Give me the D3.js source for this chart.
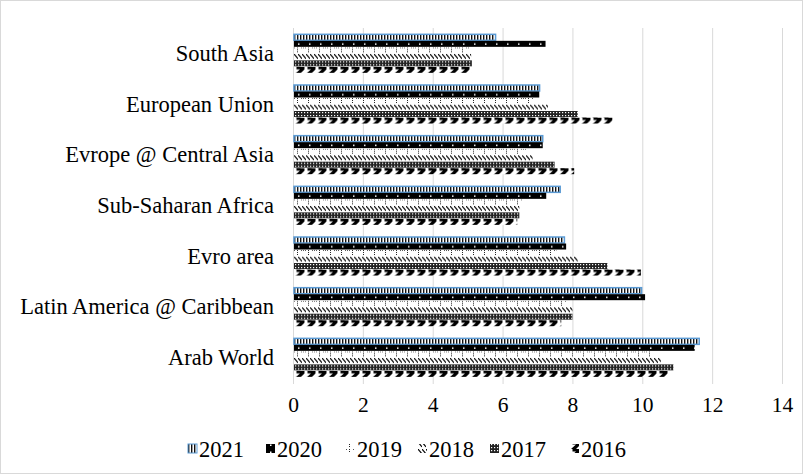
<!DOCTYPE html>
<html>
<head>
<meta charset="utf-8">
<script src="https://cdn.jsdelivr.net/npm/d3@7"></script>
<style>
  html, body { margin: 0; padding: 0; background: #fff; }
  svg { display: block; }
  text { font-family: "Liberation Serif", "Times New Roman", Tinos, "DejaVu Serif", serif; fill: #000; }
</style>
</head>
<body>
<svg id="chart" width="803" height="474"></svg>
<script>
// Regions, top to bottom
const categories = ["South Asia", "European Union", "Evrope @ Central Asia", "Sub-Saharan Africa",
                    "Evro area", "Latin America @ Caribbean", "Arab World"];
// Years, drawn top to bottom inside each group
const years = ["2021", "2020", "2019", "2018", "2017", "2016"];
const v2021 = [5.8, 7.06, 7.15, 7.65, 7.77, 9.98, 11.63];
const v2020 = [7.23, 7.05, 7.15, 7.25, 7.82, 10.08, 11.5];
const v2019 = [5.05, 6.9, 6.68, 6.57, 7.54, 7.82, 10.3];
const v2018 = [5.1, 7.3, 6.86, 6.48, 8.15, 8.0, 10.53];
const v2017 = [5.12, 8.15, 7.49, 6.48, 9.0, 8.0, 10.89];
const v2016 = [5.1, 9.15, 8.05, 6.42, 9.96, 7.68, 10.77];
const xTicks = [0, 2, 4, 6, 8, 10, 12, 14];

const seriesValues = { "2021": v2021, "2020": v2020, "2019": v2019, "2018": v2018, "2017": v2017, "2016": v2016 };

const FONT = "'Liberation Serif', 'Times New Roman', Tinos, 'DejaVu Serif', serif";
const svg = d3.select("#chart");
const W = 803, H = 474;

// outer frame
svg.append("rect").attr("x", 0.5).attr("y", 0.5).attr("width", W - 1).attr("height", H - 1)
  .attr("fill", "#fff").attr("stroke", "#d9d9d9");

// ---- fill patterns ----
const defs = svg.append("defs");
function pat(id, w, h, draw) {
  const p = defs.append("pattern").attr("id", id).attr("patternUnits", "userSpaceOnUse")
    .attr("width", w).attr("height", h);
  draw(p);
}
// 2021: narrow vertical stripes
pat("p2021", 3, 8, p => {
  p.append("rect").attr("width", 3).attr("height", 8).attr("fill", "#fff");
  p.append("rect").attr("x", 0).attr("width", 1.4).attr("height", 8).attr("fill", "#111");
});
// 2020: solid black with small white dots
pat("p2020", 11, 7, p => {
  p.append("rect").attr("width", 11).attr("height", 7).attr("fill", "#000");
  p.append("rect").attr("x", 4).attr("y", 2.5).attr("width", 1.5).attr("height", 1.5).attr("fill", "#fff");
});
// 2019: dotted verticals on white
pat("p2019", 11, 7, p => {
  p.append("rect").attr("width", 11).attr("height", 7).attr("fill", "#fff");
  [0, 2, 4].forEach(y => p.append("rect").attr("x", 3).attr("y", y).attr("width", 1).attr("height", 1).attr("fill", "#222"));
  [0, 7, 9].forEach(x => p.append("rect").attr("x", x).attr("y", 0).attr("width", 1).attr("height", 1).attr("fill", "#555"));
});
// 2018: downward diagonal dashes
pat("p2018", 4, 7, p => {
  p.append("rect").attr("width", 4).attr("height", 7).attr("fill", "#fff");
  p.append("path").attr("d", "M0,0 L4,5").attr("stroke", "#000").attr("stroke-width", 1.1);
});
// 2017: dense small grid
pat("p2017", 3, 3, p => {
  p.append("rect").attr("width", 3).attr("height", 3).attr("fill", "#222");
  p.append("rect").attr("x", 1).attr("y", 1).attr("width", 1.2).attr("height", 1.2).attr("fill", "#fff");
});
// 2016: bold slanted dashes
pat("p2016", 11, 7, p => {
  p.append("rect").attr("width", 11).attr("height", 7).attr("fill", "#fff");
  p.append("path").attr("d", "M2.5,0 L10.5,0 L10.5,2.5 L6,7 L1,7 L6,2.5 L2.5,2.5 Z").attr("fill", "#000");
});
const fills = { "2021": "url(#p2021)", "2020": "url(#p2020)", "2019": "url(#p2019)",
                "2018": "url(#p2018)", "2017": "url(#p2017)", "2016": "url(#p2016)" };

// ---- scales ----
const x = d3.scaleLinear().domain([0, 14]).range([293, 782]);
const y = d3.scaleBand().domain(categories).range([28.5, 383.2]).paddingInner(0.23).paddingOuter(0.115);
const yInner = d3.scaleBand().domain(years).range([0, y.bandwidth()]).padding(0);

// gridlines
svg.append("g").selectAll("line").data(xTicks).join("line")
  .attr("x1", d => x(d) + 0.5).attr("x2", d => x(d) + 0.5)
  .attr("y1", 28).attr("y2", 384)
  .attr("stroke", "#d9d9d9").attr("stroke-width", 1);

// x tick labels
const xAxis = d3.axisBottom(x).tickValues(xTicks).tickSize(0).tickPadding(0).tickFormat(d3.format("d"));
const gx = svg.append("g").attr("transform", "translate(0,397)").call(xAxis);
gx.attr("font-family", null);
gx.select(".domain").remove();
gx.selectAll("text").attr("font-size", 21.5).attr("dy", "0.71em")
  .style("font-family", FONT).attr("fill", "#000");

// category labels
const yAxis = d3.axisLeft(y).tickSize(0).tickPadding(0);
const gy = svg.append("g").attr("transform", "translate(274,0)").call(yAxis);
gy.attr("font-family", null);
gy.select(".domain").remove();
gy.selectAll("text").attr("font-size", 22.5).attr("dy", "0.32em")
  .style("font-family", FONT).attr("fill", "#000");

// bars: each drawn at the origin of its own group so the fill pattern starts at the bar's edge
const barData = [];
categories.forEach((c, i) => years.forEach(yr => barData.push({ cat: c, year: yr, value: seriesValues[yr][i] })));
const bars = svg.append("g").selectAll("g").data(barData).join("g")
  .attr("transform", d => `translate(${x(0) + 1},${y(d.cat) + yInner(d.year)})`);
bars.append("rect")
  .attr("width", d => x(d.value) - x(0) - 1)
  .attr("height", yInner.bandwidth() - 0.5)
  .attr("fill", d => fills[d.year])
  .attr("stroke", d => d.year === "2021" ? "#5b9bd5" : "none")
  .attr("stroke-width", 1.5);

// legend
const legendX = [188, 266, 346, 418, 490, 570];
const lg = svg.append("g").selectAll("g").data(years).join("g")
  .attr("transform", (d, i) => `translate(${legendX[i]},449)`);
lg.append("rect").attr("x", 0).attr("y", -5).attr("width", 9).attr("height", 9)
  .attr("fill", d => fills[d])
  .attr("stroke", d => d === "2021" ? "#5b9bd5" : "none").attr("stroke-width", 1);
lg.append("text").attr("x", 11).attr("y", 0).attr("dy", "0.35em").attr("font-size", 22.5)
  .style("font-family", FONT).text(d => d);
</script>
</body>
</html>
